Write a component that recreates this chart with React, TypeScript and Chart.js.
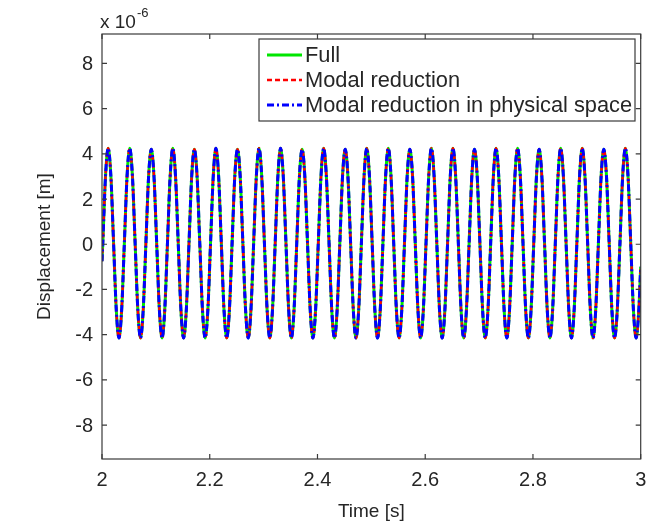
import React, { useEffect, useRef } from "react";
import { Chart, registerables } from "chart.js";

Chart.register(...registerables);

// ---------- data ----------
const X_TICKS = [2, 2.2, 2.4, 2.6, 2.8, 3];
const Y_TICKS = [-8, -6, -4, -2, 0, 2, 4, 6, 8];
const X_MIN = 2;
const X_MAX = 3;
const Y_MIN = -9.5;
const Y_MAX = 9.3;
const SERIES_LABELS = ["Full", "Modal reduction", "Modal reduction in physical space"];
const SERIES_COLORS = ["rgb(0,230,0)", "rgb(255,0,0)", "rgb(0,0,255)"];

// sample times (s): first sample, regular sampling step, last sample
const T_START = 2.0;
const T_FIRST = 2.0015;
const T_STEP = 0.005;
const T_END = 3.0;

// displacement (x 1e-6 m); one row per oscillation cycle
const V_START = -0.75;
const V_END = -1.0;
const DISPLACEMENT = [
  0.05, 3.0, 4.25, 3.0, 0.05, -2.9, -4.15, -2.9,
  0.05, 3.0, 4.25, 3.0, 0.05, -2.9, -4.15, -2.9,
  0.05, 3.0, 4.2, 3.0, 0.05, -2.9, -4.15, -2.9,
  0.05, 3.0, 4.25, 3.0, 0.05, -2.9, -4.15, -2.9,
  0.05, 3.0, 4.2, 3.0, 0.05, -2.9, -4.15, -2.9,
  0.05, 3.0, 4.25, 3.0, 0.05, -2.9, -4.15, -2.9,
  0.05, 3.0, 4.2, 3.0, 0.05, -2.9, -4.15, -2.9,
  0.05, 3.0, 4.25, 3.0, 0.05, -2.9, -4.15, -2.9,
  0.05, 3.0, 4.25, 3.0, 0.05, -2.9, -4.15, -2.9,
  0.05, 3.0, 4.2, 3.0, 0.05, -2.9, -4.15, -2.9,
  0.05, 3.0, 4.25, 3.0, 0.05, -2.9, -4.15, -2.9,
  0.05, 3.0, 4.2, 3.0, 0.05, -2.9, -4.15, -2.9,
  0.05, 3.0, 4.25, 3.0, 0.05, -2.9, -4.15, -2.9,
  0.05, 3.0, 4.25, 3.0, 0.05, -2.9, -4.15, -2.9,
  0.05, 3.0, 4.2, 3.0, 0.05, -2.9, -4.15, -2.9,
  0.05, 3.0, 4.25, 3.0, 0.05, -2.9, -4.15, -2.9,
  0.05, 3.0, 4.25, 3.0, 0.05, -2.9, -4.15, -2.9,
  0.05, 3.0, 4.2, 3.0, 0.05, -2.9, -4.15, -2.9,
  0.05, 3.0, 4.25, 3.0, 0.05, -2.9, -4.15, -2.9,
  0.05, 3.0, 4.25, 3.0, 0.05, -2.9, -4.15, -2.9,
  0.05, 3.0, 4.2, 3.0, 0.05, -2.9, -4.15, -2.9,
  0.05, 3.0, 4.25, 3.0, 0.05, -2.9, -4.15, -2.9,
  0.05, 3.0, 4.25, 3.0, 0.05, -2.9, -4.15, -2.9,
  0.05, 3.0, 4.2, 3.0, 0.05, -2.9, -4.15, -2.9,
  0.05, 3.0, 4.25, 3.0, 0.05, -2.9, -4.15, -2.9,
];

const FONT = '"Liberation Sans", Arial, Helvetica, sans-serif';
const TEXT_COLOR = "#262626";
const AXIS_COLOR = "#3a3a3a";

function buildPoints(values: number[]) {
  const pts: { x: number; y: number }[] = [{ x: T_START, y: V_START }];
  values.forEach((v, i) => pts.push({ x: T_FIRST + i * T_STEP, y: v }));
  pts.push({ x: T_END, y: V_END });
  return pts;
}

const DASHES: number[][] = [[], [5, 3], [7, 3, 2, 3]];
const WIDTHS = [3, 2.5, 3];

const decorPlugin = {
  id: "decor",
  afterDatasetsDraw(chart: any) {
    const { ctx, chartArea } = chart;
    const { left, right, top, bottom } = chartArea;
    const xs = chart.scales.x;
    const ys = chart.scales.y;
    ctx.save();
    // frame
    ctx.strokeStyle = AXIS_COLOR;
    ctx.lineWidth = 1.2;
    ctx.setLineDash([]);
    ctx.strokeRect(left, top, right - left, bottom - top);
    // inward ticks
    const tl = 5;
    ctx.beginPath();
    X_TICKS.forEach((t) => {
      const px = xs.getPixelForValue(t);
      ctx.moveTo(px, bottom);
      ctx.lineTo(px, bottom - tl);
      ctx.moveTo(px, top);
      ctx.lineTo(px, top + tl);
    });
    Y_TICKS.forEach((t) => {
      const py = ys.getPixelForValue(t);
      ctx.moveTo(left, py);
      ctx.lineTo(left + tl, py);
      ctx.moveTo(right, py);
      ctx.lineTo(right - tl, py);
    });
    ctx.stroke();

    // tick labels (positioned by the chart scales)
    ctx.fillStyle = TEXT_COLOR;
    ctx.font = `20px ${FONT}`;
    ctx.textAlign = "center";
    ctx.textBaseline = "middle";
    X_TICKS.forEach((t) => {
      ctx.fillText(String(t), xs.getPixelForValue(t), bottom + 21);
    });
    ctx.textAlign = "right";
    Y_TICKS.forEach((t) => {
      ctx.fillText(String(t), left - 9, ys.getPixelForValue(t) + 1);
    });

    // axis titles
    ctx.font = `19px ${FONT}`;
    ctx.textAlign = "center";
    ctx.textBaseline = "middle";
    ctx.fillText("Time [s]", (left + right) / 2, 512);
    ctx.save();
    ctx.translate(45, (top + bottom) / 2);
    ctx.rotate(-Math.PI / 2);
    ctx.fillText("Displacement [m]", 0, 0);
    ctx.restore();

    // exponent label
    ctx.textAlign = "left";
    ctx.textBaseline = "alphabetic";
    ctx.font = `19px ${FONT}`;
    ctx.fillText("x 10", 100, 28);
    const w = ctx.measureText("x 10").width;
    ctx.font = `13px ${FONT}`;
    ctx.fillText("-6", 100 + w + 1, 17);

    // legend
    const lx = 259, ly = 39, lw = 376, lh = 82;
    ctx.fillStyle = "#ffffff";
    ctx.fillRect(lx, ly, lw, lh);
    ctx.strokeStyle = AXIS_COLOR;
    ctx.lineWidth = 1.2;
    ctx.strokeRect(lx, ly, lw, lh);
    ctx.font = `21.8px ${FONT}`;
    ctx.textBaseline = "middle";
    SERIES_LABELS.forEach((lab, i) => {
      const y = 55 + i * 25;
      ctx.strokeStyle = SERIES_COLORS[i];
      ctx.lineWidth = WIDTHS[i];
      ctx.setLineDash(DASHES[i]);
      ctx.beginPath();
      ctx.moveTo(267, y);
      ctx.lineTo(302, y);
      ctx.stroke();
      ctx.setLineDash([]);
      ctx.fillStyle = TEXT_COLOR;
      ctx.fillText(lab, 305, y + 1);
    });
    ctx.restore();
  },
};

export default function App() {
  const ref = useRef<HTMLCanvasElement | null>(null);
  useEffect(() => {
    const canvas = ref.current;
    if (!canvas) return;
    const datasets = SERIES_LABELS.map((lab, i) => ({
      label: lab,
      data: buildPoints(DISPLACEMENT),
      borderColor: SERIES_COLORS[i],
      borderWidth: WIDTHS[i],
      borderDash: DASHES[i],
      pointRadius: 0,
      fill: false,
      cubicInterpolationMode: "monotone" as const,
      order: 3 - i,
    }));
    const chart = new Chart(canvas, {
      type: "line",
      data: { datasets },
      options: {
        responsive: false,
        animation: false,
        events: [],
        layout: { padding: { left: 0, top: 34, right: 6.3, bottom: 0 } },
        plugins: { legend: { display: false }, tooltip: { enabled: false } },
        scales: {
          x: {
            type: "linear",
            min: X_MIN,
            max: X_MAX,
            grid: { display: false, drawTicks: false },
            border: { display: false },
            afterBuildTicks: (s: any) => {
              s.ticks = X_TICKS.map((v) => ({ value: v }));
            },
            afterFit: (s: any) => {
              s.height = 68;
            },
            ticks: { display: false },
          },
          y: {
            type: "linear",
            min: Y_MIN,
            max: Y_MAX,
            grid: { display: false, drawTicks: false },
            border: { display: false },
            afterBuildTicks: (s: any) => {
              s.ticks = Y_TICKS.map((v) => ({ value: v }));
            },
            afterFit: (s: any) => {
              s.width = 102;
            },
            ticks: { display: false },
          },
        },
      },
      plugins: [decorPlugin],
    });
    return () => chart.destroy();
  }, []);
  return (
    <div style={{ position: "fixed", left: 0, top: 0, width: 647, height: 527, background: "#fff" }}>
      <canvas ref={ref} width={647} height={527} style={{ width: 647, height: 527, display: "block" }} />
    </div>
  );
}
